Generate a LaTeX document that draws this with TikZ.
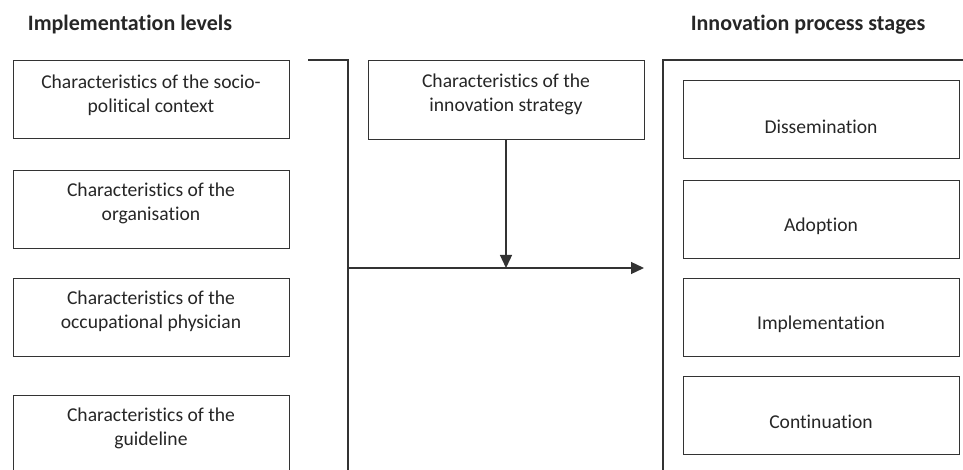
\documentclass[tikz,border=0pt]{standalone}
\usepackage{fontspec}
\setmainfont{Carlito}[Ligatures={NoCommon}]
\usetikzlibrary{arrows.meta}
\definecolor{linec}{HTML}{333333}
\definecolor{textc}{HTML}{262626}
\begin{document}
\begin{tikzpicture}[x=1pt,y=-1pt,
  box/.style={draw=linec, line width=1.3pt, minimum width=276pt, minimum height=78pt, inner sep=0pt, anchor=north west},
  txt/.style={font=\fontsize{19.6}{24}\selectfont, align=center, text=textc, inner sep=0pt},
  ttl/.style={font=\fontsize{22}{24}\selectfont\bfseries, text=textc, inner sep=0pt},
  frame/.style={draw=linec, line width=1.3pt},
  arr/.style={frame, -{Triangle[length=13pt,width=12pt]}}]
\useasboundingbox (0,0) rectangle (963,470);
\clip (0,0) rectangle (963,470);
% titles
\node[ttl] (t1) at (130,25) {Implementation levels};
\node[ttl] (t2) at (808,25) {Innovation process stages};
% left boxes
\node[box] (l1) at (13,60) {};
\node[box] (l2) at (13,170) {};
\node[box] (l3) at (13,278) {};
\node[box, minimum height=100pt] (l4) at (13,395) {};
\node[txt] (l1t) at (151,95) {Characteristics of the socio-\\political context};
\node[txt] (l2t) at (151,203) {Characteristics of the\\organisation};
\node[txt] (l3t) at (151,311) {Characteristics of the\\occupational physician};
\node[txt] (l4t) at (151,428) {Characteristics of the\\guideline};
% bracket
\coordinate (b0) at (308,60);
\coordinate (b1) at (348,60);
\coordinate (b2) at (348,480);
\draw[frame] (b0) -- (b1) -- (b2);
% middle box
\node[box, minimum height=79pt] (m) at (368,60) {};
\node[txt] (mt) at (506,94) {Characteristics of the\\innovation strategy};
% arrows
\coordinate (h0) at (348,268);
\coordinate (h1) at (644,268);
\coordinate (v1) at (506,268);
\draw[arr] (h0) -- (h1);
\draw[arr] (m.south -| v1) -- (v1);
% right frame
\coordinate (f0) at (663,480);
\coordinate (f1) at (663,60);
\coordinate (f2) at (975,60);
\draw[frame] (f0) -- (f1) -- (f2);
% right boxes
\node[box] (r1) at (683,80) {};
\node[box] (r2) at (683,180) {};
\node[box] (r3) at (683,278) {};
\node[box] (r4) at (683,376) {};
\node[txt] (r1t) at (821,127) {Dissemination};
\node[txt] (r2t) at (821,226) {Adoption};
\node[txt] (r3t) at (821,324) {Implementation};
\node[txt] (r4t) at (821,422) {Continuation};
\end{tikzpicture}
\end{document}
